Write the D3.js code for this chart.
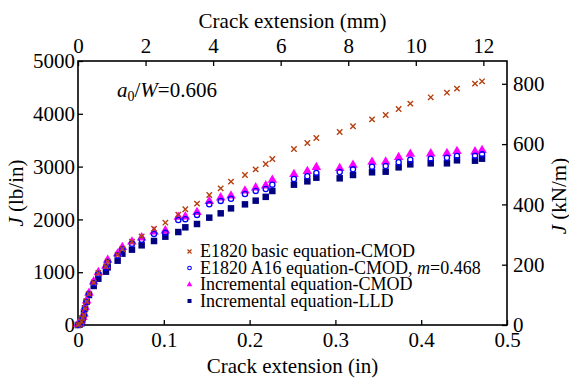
<!DOCTYPE html>
<html>
<head>
<meta charset="utf-8">
<script src="https://cdn.jsdelivr.net/npm/d3@7"></script>
<style>
  html, body { margin: 0; padding: 0; background: #fff; }
</style>
</head>
<body>
<div id="chart"></div>
<script>
// J-R curve: J vs crack extension, four evaluation methods.
// Shared crack-extension readings (in); each series gives J (lb/in) at those readings.
var crackIn = [0, 0.002, 0.004, 0.0055, 0.007, 0.0082, 0.0101, 0.0128, 0.0183, 0.0237,
  0.0326, 0.0346, 0.0462, 0.0517, 0.0629, 0.0742, 0.0886, 0.1018, 0.1169, 0.1251,
  0.1387, 0.153, 0.1663, 0.1783, 0.1946, 0.2071, 0.2188, 0.2265, 0.2517, 0.2673,
  0.2778, 0.305, 0.3205, 0.3427, 0.3586, 0.3737, 0.3873, 0.4111, 0.43, 0.4417,
  0.4627, 0.4709]

var basicCMOD = [0, 20, 63, 130, 190, 318, 445, 590, 805, 985,
  1110, 1206, 1330, 1439, 1578, 1679, 1824, 1938, 2090, 2191,
  2298, 2462, 2588, 2715, 2841, 2948, 3049, 3144, 3333, 3447,
  3542, 3655, 3763, 3895, 3977, 4091, 4192, 4312, 4400, 4476,
  4571, 4615]

var a16CMOD = [0, 18, 60, 125, 185, 310, 435, 580, 795, 965,
  1085, 1195, 1315, 1430, 1540, 1615, 1725, 1745, 1990, 2005,
  2085, 2285, 2350, 2390, 2480, 2540, 2576, 2658, 2765, 2816,
  2879, 2898, 2948, 2999, 3011, 3081, 3131, 3150, 3169, 3201,
  3207, 3232]

var incrCMOD = [0, 20, 63, 130, 189, 316, 442, 587, 802, 978,
  1100, 1212, 1330, 1452, 1559, 1635, 1749, 1768, 2027, 2033,
  2115, 2323, 2393, 2430, 2525, 2582, 2620, 2727, 2835, 2892,
  2967, 2948, 3011, 3068, 3074, 3157, 3220, 3226, 3232, 3270,
  3264, 3289]

var incrLLD = [0, 10, 32, 127, 221, 316, 442, 568, 739, 877,
  1010, 1092, 1218, 1351, 1427, 1509, 1591, 1673, 1761, 1850,
  1913, 2033, 2115, 2209, 2285, 2355, 2427, 2538, 2658, 2721,
  2790, 2778, 2841, 2892, 2904, 2986, 3043, 3062, 3062, 3119,
  3112, 3150]

var bottomTicks = [0, 0.1, 0.2, 0.3, 0.4, 0.5]
var topTicks = [0, 2, 4, 6, 8, 10, 12]
var leftTicks = [0, 1000, 2000, 3000, 4000, 5000]
var rightTicks = [0, 200, 400, 600, 800]

var MM_PER_IN = 25.4
var KNM_PER_LBIN = 0.175127

var FONT = 'Liberation Serif'
var W = 569, H = 379
var margin = {top: 61, right: 62, bottom: 54, left: 78}
var width = W - margin.left - margin.right
var height = H - margin.top - margin.bottom

var svg = d3.select('#chart').append('svg').attr('width', W).attr('height', H)
  .attr('font-family', FONT).style('display', 'block')
var g = svg.append('g').attr('transform', 'translate(' + margin.left + ',' + margin.top + ')')

var x = d3.scaleLinear().domain([0, 0.5]).range([0, width])
var xmm = d3.scaleLinear().domain([0, 0.5 * MM_PER_IN]).range([0, width])
var y = d3.scaleLinear().domain([0, 5000]).range([height, 0])
var ykn = d3.scaleLinear().domain([0, 5000 * KNM_PER_LBIN]).range([height, 0])

var FS = 21

// ---- axes (ticks point inward, MATLAB style) ----
var fmtIn = function(d){ return d === 0 ? '0' : d3.format('.1f')(d) }
g.append('g').attr('transform', 'translate(0,' + height + ')')
  .call(d3.axisBottom(x).tickValues(bottomTicks).tickFormat(fmtIn).tickSizeInner(-5).tickSizeOuter(0).tickPadding(7))
g.append('g')
  .call(d3.axisTop(xmm).tickValues(topTicks).tickFormat(d3.format('d')).tickSizeInner(-5).tickSizeOuter(0).tickPadding(8))
g.append('g')
  .call(d3.axisLeft(y).tickValues(leftTicks).tickFormat(d3.format('d')).tickSizeInner(-5).tickSizeOuter(0).tickPadding(3))
g.append('g').attr('transform', 'translate(' + width + ',0)')
  .call(d3.axisRight(ykn).tickValues(rightTicks).tickFormat(d3.format('d')).tickSizeInner(-5).tickSizeOuter(0).tickPadding(6))

g.selectAll('.domain').remove()
g.selectAll('.tick line').attr('stroke', '#000').attr('stroke-width', 1.3)
g.selectAll('.tick text').attr('fill', '#000').attr('font-size', FS)

// frame
g.append('rect').attr('width', width).attr('height', height)
  .attr('fill', 'none').attr('stroke', '#000').attr('stroke-width', 1.6)

// ---- data markers ----
function pts(vals){ return crackIn.map(function(c, i){ return {x: x(c), y: y(vals[i])} }) }

var squareSym = d3.symbol().type(d3.symbolSquare).size(42)
var triSym = d3.symbol().type(d3.symbolTriangle).size(40)

g.append('g').selectAll('path').data(pts(incrLLD)).join('path')
  .attr('d', squareSym).attr('transform', function(d){ return 'translate(' + d.x + ',' + d.y + ')' })
  .attr('fill', '#000080')

g.append('g').selectAll('path').data(pts(incrCMOD)).join('path')
  .attr('d', triSym).attr('transform', function(d){ return 'translate(' + d.x + ',' + (d.y - 1) + ')' })
  .attr('fill', '#ff00ff')

g.append('g').selectAll('circle').data(pts(a16CMOD)).join('circle')
  .attr('cx', function(d){ return d.x }).attr('cy', function(d){ return d.y }).attr('r', 2.6)
  .attr('fill', 'none').attr('stroke', '#0000ff').attr('stroke-width', 1.3)

var cr = 2.7
g.append('g').selectAll('path').data(pts(basicCMOD)).join('path')
  .attr('d', function(d){
    return 'M' + (d.x - cr) + ',' + (d.y - cr) + 'L' + (d.x + cr) + ',' + (d.y + cr) +
      'M' + (d.x - cr) + ',' + (d.y + cr) + 'L' + (d.x + cr) + ',' + (d.y - cr)
  })
  .attr('stroke', '#b5400f').attr('stroke-width', 1.4).attr('fill', 'none')

// ---- axis titles ----
svg.append('text').attr('x', margin.left + width / 2).attr('y', 373).attr('text-anchor', 'middle')
  .attr('font-size', FS).text('Crack extension (in)')
svg.append('text').attr('x', margin.left + width / 2).attr('y', 28).attr('text-anchor', 'middle')
  .attr('font-size', FS).text('Crack extension (mm)')

var yl = svg.append('text').attr('transform', 'translate(23,' + (margin.top + height / 2) + ') rotate(-90)')
  .attr('text-anchor', 'middle').attr('font-size', FS)
yl.append('tspan').attr('font-style', 'italic').text('J')
yl.append('tspan').text(' (lb/in)')

var yr = svg.append('text').attr('transform', 'translate(566,' + (margin.top + height / 2 + 3) + ') rotate(-90)')
  .attr('text-anchor', 'middle').attr('font-size', FS)
yr.append('tspan').attr('font-style', 'italic').text('J')
yr.append('tspan').text(' (kN/m)')

// a0/W annotation
var an = svg.append('text').attr('x', 117).attr('y', 97).attr('font-size', FS)
an.append('tspan').attr('font-style', 'italic').text('a')
an.append('tspan').attr('dy', 4).attr('font-size', 14).text('0')
an.append('tspan').attr('dy', -4).text('/')
an.append('tspan').attr('font-style', 'italic').text('W')
an.append('tspan').text('=0.606')

// ---- legend ----
var legend = [
  {type: 'cross', label: ['E1820 basic equation-CMOD']},
  {type: 'circle', label: ['E1820 A16 equation-CMOD, ', 'm', '=0.468']},
  {type: 'tri', label: ['Incremental equation-CMOD']},
  {type: 'square', label: ['Incremental equation-LLD']}
]
var lg = svg.append('g')
legend.forEach(function(d, i){
  var ly = 257 + i * 16.5, mx = 189.5, my = ly - 5.5
  if (d.type == 'cross') lg.append('path')
    .attr('d', 'M' + (mx - 2) + ',' + (my - 2) + 'L' + (mx + 2) + ',' + (my + 2) + 'M' + (mx - 2) + ',' + (my + 2) + 'L' + (mx + 2) + ',' + (my - 2))
    .attr('stroke', '#b5400f').attr('stroke-width', 1.2)
  if (d.type == 'circle') lg.append('circle').attr('cx', mx).attr('cy', my).attr('r', 1.8)
    .attr('fill', 'none').attr('stroke', '#0000ff').attr('stroke-width', 1.1)
  if (d.type == 'tri') lg.append('path').attr('d', d3.symbol().type(d3.symbolTriangle).size(14))
    .attr('transform', 'translate(' + mx + ',' + my + ')').attr('fill', '#ff00ff')
  if (d.type == 'square') lg.append('path').attr('d', d3.symbol().type(d3.symbolSquare).size(16))
    .attr('transform', 'translate(' + mx + ',' + my + ')').attr('fill', '#000080')
  var t = lg.append('text').attr('x', 200).attr('y', ly).attr('font-size', 18)
  d.label.forEach(function(s, j){
    t.append('tspan').attr('font-style', j == 1 ? 'italic' : null).text(s)
  })
})

// every text in the serif face (the axis groups carry their own sans-serif attribute)
svg.selectAll('text').attr('font-family', FONT)
</script>
</body>
</html>
